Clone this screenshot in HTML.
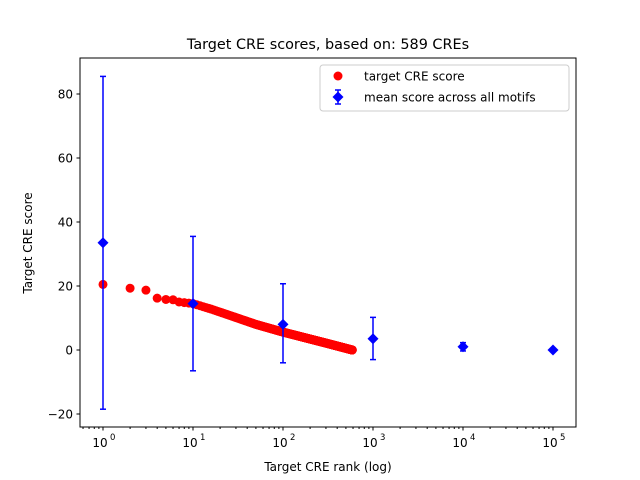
<!DOCTYPE html>
<html><head><style>body{margin:0;background:#fff}svg{display:block}text{font-family:"DejaVu Sans","Liberation Sans",sans-serif;fill:#000}</style></head>
<body>
<svg id="s" width="640" height="480" viewBox="0 0 640 480" xmlns="http://www.w3.org/2000/svg">
<rect x="0" y="0" width="640" height="480" fill="#fff"/>
<text x="328" y="49" font-size="14.4" text-anchor="middle">Target CRE scores, based on: 589 CREs</text>
<g id="pts"></g>
<g id="eb" stroke="#0000ff" stroke-width="2" fill="#0000ff"></g>
<rect x="80" y="58" width="496" height="369" fill="none" stroke="#000" stroke-width="1"/>
<g id="ticks" stroke="#000" stroke-width="1"></g>
<g font-size="12" id="labels"></g>
<text x="328" y="471" font-size="12" text-anchor="middle">Target CRE rank (log)</text>
<text transform="translate(32,243) rotate(-90)" font-size="12" text-anchor="middle">Target CRE score</text>
<g>
<rect x="320" y="65" width="249" height="46" rx="3" fill="#fff" stroke="#ccc" stroke-width="1"/>
<circle cx="338" cy="76" r="4.5" fill="#ff0000"/>
<text x="364" y="80.5" font-size="12">target CRE score</text>
<line x1="338" y1="90" x2="338" y2="104" stroke="#0000ff" stroke-width="1.5"/>
<line x1="335" y1="90" x2="341" y2="90" stroke="#0000ff" stroke-width="1.5"/>
<line x1="335" y1="104" x2="341" y2="104" stroke="#0000ff" stroke-width="1.5"/>
<polygon points="338,91.5 343.5,97 338,102.5 332.5,97" fill="#0000ff"/>
<text x="364" y="101.5" font-size="12">mean score across all motifs</text>
</g>
</svg>
<script>
var ns="http://www.w3.org/2000/svg";
function X(r){return 103+90*Math.log10(r);}
function Y(v){return 350-3.2*v;}
function el(p,t,a){var e=document.createElementNS(ns,t);for(var k in a)e.setAttribute(k,a[k]);p.appendChild(e);return e;}
var K=[[0,20.5],[0.301,19.3],[0.477,18.7],[0.602,16.2],[0.699,15.8],[0.778,15.7],[0.845,15],[1,14.5],[1.2,12.8],[1.41,10.8],[1.7,8],[2,5.6],[2.5,2],[2.77,0]];
function S(l){for(var i=0;i<K.length-1;i++){if(l<=K[i+1][0]){var t=(l-K[i][0])/(K[i+1][0]-K[i][0]);return K[i][1]+t*(K[i+1][1]-K[i][1]);}}return 0;}
var g=document.getElementById('pts');
for(var r=1;r<=589;r++){el(g,'circle',{cx:X(r),cy:Y(S(Math.log10(r))),r:4.5,fill:'#ff0000'});}
var eb=document.getElementById('eb');
var E=[[1,33.5,-18.5,85.5],[10,14.5,-6.5,35.5],[100,8,-4,20.7],[1000,3.5,-3,10.2],[1e4,1,-0.3,2.3],[1e5,0,0,0]];
E.forEach(function(e){var x=X(e[0]);
if(e[3]>e[2]){el(eb,'line',{x1:x,x2:x,y1:Y(e[2]),y2:Y(e[3]),'stroke-width':1.5});
el(eb,'line',{x1:x-3,x2:x+3,y1:Y(e[2]),y2:Y(e[2]),'stroke-width':1.5});
el(eb,'line',{x1:x-3,x2:x+3,y1:Y(e[3]),y2:Y(e[3]),'stroke-width':1.5});}
var y=Y(e[1]);el(eb,'polygon',{points:x+','+(y-5.5)+' '+(x+5.5)+','+y+' '+x+','+(y+5.5)+' '+(x-5.5)+','+y,stroke:'none'});});
var tk=document.getElementById('ticks'),lb=document.getElementById('labels');
for(var d=0;d<=5;d++){var x=X(Math.pow(10,d));el(tk,'line',{x1:x,x2:x,y1:427,y2:430.5});
var t=el(lb,'text',{x:x-3,y:447,'text-anchor':'middle'});t.textContent='10';var s=el(lb,'text',{x:x+7,y:440,'font-size':8.5});s.textContent=d;}
for(var d=-1;d<=5;d++)for(var m=2;m<10;m++){var x=X(m*Math.pow(10,d));if(x>80&&x<576)el(tk,'line',{x1:x,x2:x,y1:427,y2:429});}
for(var v=-20;v<=80;v+=20){var y=Y(v);el(tk,'line',{x1:76.5,x2:80,y1:y,y2:y});var t=el(lb,'text',{x:73,y:y+4.5,'text-anchor':'end'});t.textContent=v<0?'\u221220':v;}
</script>
</body></html>
